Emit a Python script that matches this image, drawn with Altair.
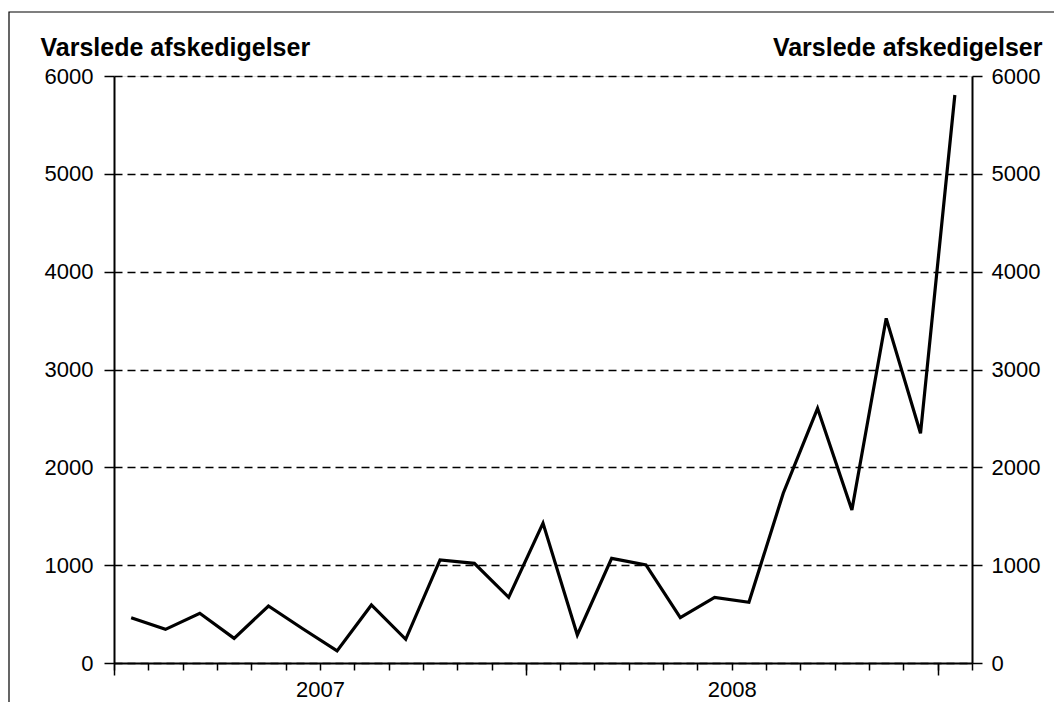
import altair as alt
import pandas as pd

months = [f"{y}-{m:02d}" for y in (2007, 2008) for m in range(1, 13)] + ["2009-01"]
values = [463, 344, 508, 252, 583, 350, 123, 593, 242, 1053, 1019, 671,
          1430, 286, 1070, 1002, 463, 671, 620, 1735, 2603, 1564, 3523, 2348, 5806]
year_labels = ["2007", "2008"]
y_ticks = [0, 1000, 2000, 3000, 4000, 5000, 6000]
title_text = "Varslede afskedigelser"

df = pd.DataFrame({"month": months, "value": values})
df["pos"] = [i + 0.5 for i in range(len(months))]

FONT = "Liberation Sans"
xscale = alt.Scale(domain=[0, len(months)], nice=False, zero=False)
yscale = alt.Scale(domain=[0, 6000], nice=False)

base = alt.Chart(df)

line = base.mark_line(color="black", strokeWidth=3.2, strokeJoin="miter").encode(
    x=alt.X("pos:Q", scale=xscale,
            axis=alt.Axis(orient="bottom", values=list(range(len(months) + 1)),
                          tickSize=7, tickWidth=1.5, tickColor="black",
                          labels=False, title=None, grid=False,
                          domainColor="black", domainWidth=2)),
    y=alt.Y("value:Q", scale=yscale,
            axis=alt.Axis(orient="left", values=y_ticks, format="d",
                          tickSize=10, tickWidth=1.5,
                          tickColor="black", domainColor="black", domainWidth=2,
                          labelFontSize=22, labelFont=FONT, labelColor="black",
                          labelPadding=11,
                          grid=True, gridColor="black", gridDash=[8, 5], gridWidth=1.3,
                          title=title_text, titleAngle=0, titleAlign="left",
                          titleBaseline="alphabetic", titleX=-74, titleY=-21,
                          titleFont=FONT, titleFontSize=25, titleFontWeight="bold",
                          titleColor="black")),
)

right = base.mark_line(opacity=0).encode(
    x=alt.X("pos:Q", scale=xscale,
            axis=alt.Axis(orient="bottom", values=[0, 12, 24], tickSize=12,
                          tickWidth=1.5, tickColor="black", labels=False,
                          domain=False, grid=False, title=None)),
    y=alt.Y("value:Q", scale=yscale,
            axis=alt.Axis(orient="right", values=y_ticks, format="d",
                          tickSize=10, tickWidth=1.5,
                          tickColor="black", domainColor="black", domainWidth=2,
                          labelFontSize=22, labelFont=FONT, labelColor="black",
                          labelPadding=9, grid=False,
                          title=title_text, titleAngle=0, titleAlign="right",
                          titleBaseline="alphabetic", titleX=70, titleY=-21,
                          titleFont=FONT, titleFontSize=25, titleFontWeight="bold",
                          titleColor="black")),
)

label_expr = "datum.value == 6 ? '2007' : (datum.value == 18 ? '2008' : '')"
years = base.mark_line(opacity=0).encode(
    x=alt.X("pos:Q", scale=xscale,
            axis=alt.Axis(orient="bottom", values=[6, 18], ticks=False,
                          labelExpr=label_expr, labelFontSize=22, labelFont=FONT,
                          labelColor="black", labelPadding=16, domain=False,
                          grid=False, title=None)),
    y=alt.Y("value:Q", scale=yscale, axis=None),
)

frame = alt.Chart(pd.DataFrame({"k": [0]})).mark_rect(
    fill=None, stroke="black", strokeWidth=1.2, clip=False
).encode(
    x=alt.value(-105), x2=alt.value(1000), y=alt.value(-64), y2=alt.value(700)
)

chart = alt.layer(frame, line, right, years).resolve_axis(
    x="independent", y="independent"
).properties(
    width=858, height=587,
    autosize=alt.AutoSizeParams(type="none"),
    padding={"left": 106, "top": 68, "right": 82, "bottom": 39},
).configure_view(stroke=None).configure(background="white")

chart.save("out.html", embed_options={"renderer": "svg", "actions": False})
